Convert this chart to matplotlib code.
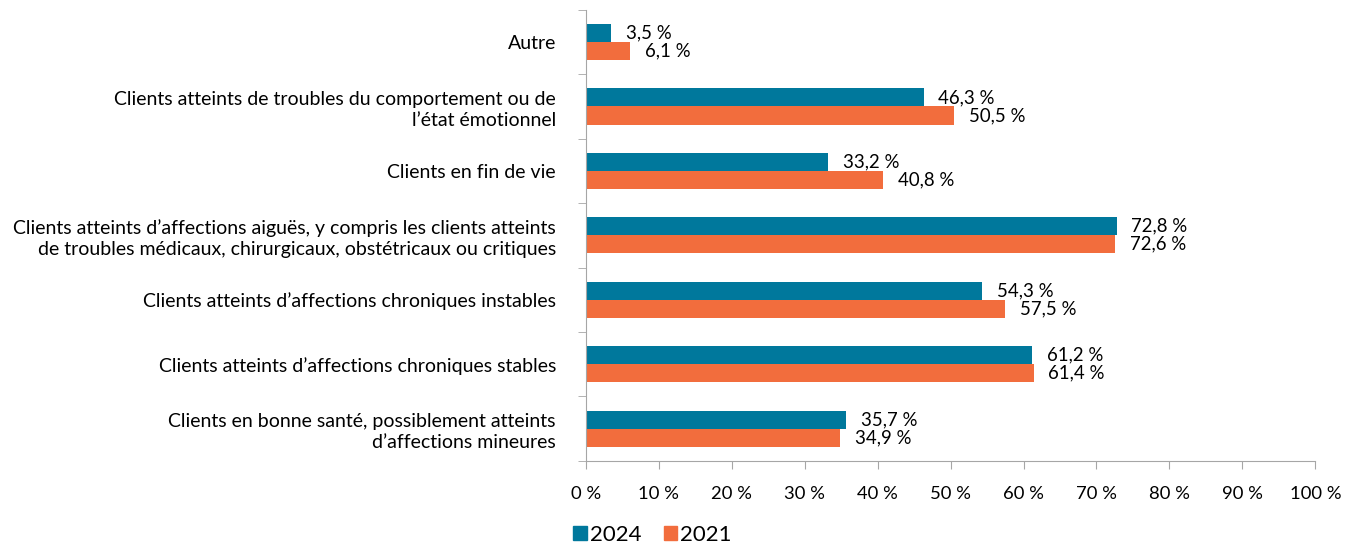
import matplotlib
matplotlib.use("Agg")
import matplotlib.pyplot as plt
import numpy as np
from matplotlib.patches import Patch

categories = [
    "Clients en bonne santé, possiblement atteints\nd’affections mineures",
    "Clients atteints d’affections chroniques stables",
    "Clients atteints d’affections chroniques instables",
    "Clients atteints d’affections aiguës, y compris les clients atteints\nde troubles médicaux, chirurgicaux, obstétricaux ou critiques",
    "Clients en fin de vie",
    "Clients atteints de troubles du comportement ou de\nl’état émotionnel",
    "Autre",
]
values_2024 = [35.7, 61.2, 54.3, 72.8, 33.2, 46.3, 3.5]
values_2021 = [34.9, 61.4, 57.5, 72.6, 40.8, 50.5, 6.1]
series_names = ["2024", "2021"]
xticks = list(range(0, 101, 10))

c2024 = "#00789C"
c2021 = "#F26D3D"

plt.rcParams['font.family'] = ['Lato', 'DejaVu Sans']

fig = plt.figure(figsize=(13.56, 5.46), dpi=100)
ax = fig.add_axes([0.432, 0.156, 0.538, 0.826])

y = np.arange(len(categories))
h = 0.28
ax.barh(y + h/2, values_2024, height=h, color=c2024)
ax.barh(y - h/2, values_2021, height=h, color=c2021)

def fmt(v):
    return f"{v:.1f}".replace(".", ",") + " %"

for yi, v in zip(y, values_2024):
    ax.text(v + 2.0, yi + h/2, fmt(v), va="center", ha="left", fontsize=13.4)
for yi, v in zip(y, values_2021):
    ax.text(v + 2.0, yi - h/2, fmt(v), va="center", ha="left", fontsize=13.4)

ax.set_xlim(0, 100)
ax.set_ylim(-0.5, len(categories) - 0.5)
ax.set_xticks(xticks)
ax.set_xticklabels([f"{t} %" for t in xticks], fontsize=13.3)
ax.set_yticks(y)
ax.set_yticklabels(categories, fontsize=14, ha="right", linespacing=1.3)
ax.tick_params(axis="y", length=0, pad=21.5)
ax.set_yticks(np.arange(-0.5, len(categories), 1.0), minor=True)
ax.tick_params(axis="y", which="minor", length=6, color="#A6A6A6", direction="out")
ax.tick_params(axis="x", length=6, color="#A6A6A6", pad=12)

for s in ["top", "right"]:
    ax.spines[s].set_visible(False)
ax.spines["left"].set_color("#A6A6A6")
ax.spines["bottom"].set_color("#A6A6A6")

handles = [Patch(color=c2024), Patch(color=c2021)]
fig.legend(handles, series_names, loc="lower left", bbox_to_anchor=(0.408, -0.035),
           ncol=2, frameon=False, fontsize=16, handlelength=0.6, handleheight=0.6,
           handletextpad=0.15, columnspacing=1.0)

fig.savefig("out.png", dpi=100)
